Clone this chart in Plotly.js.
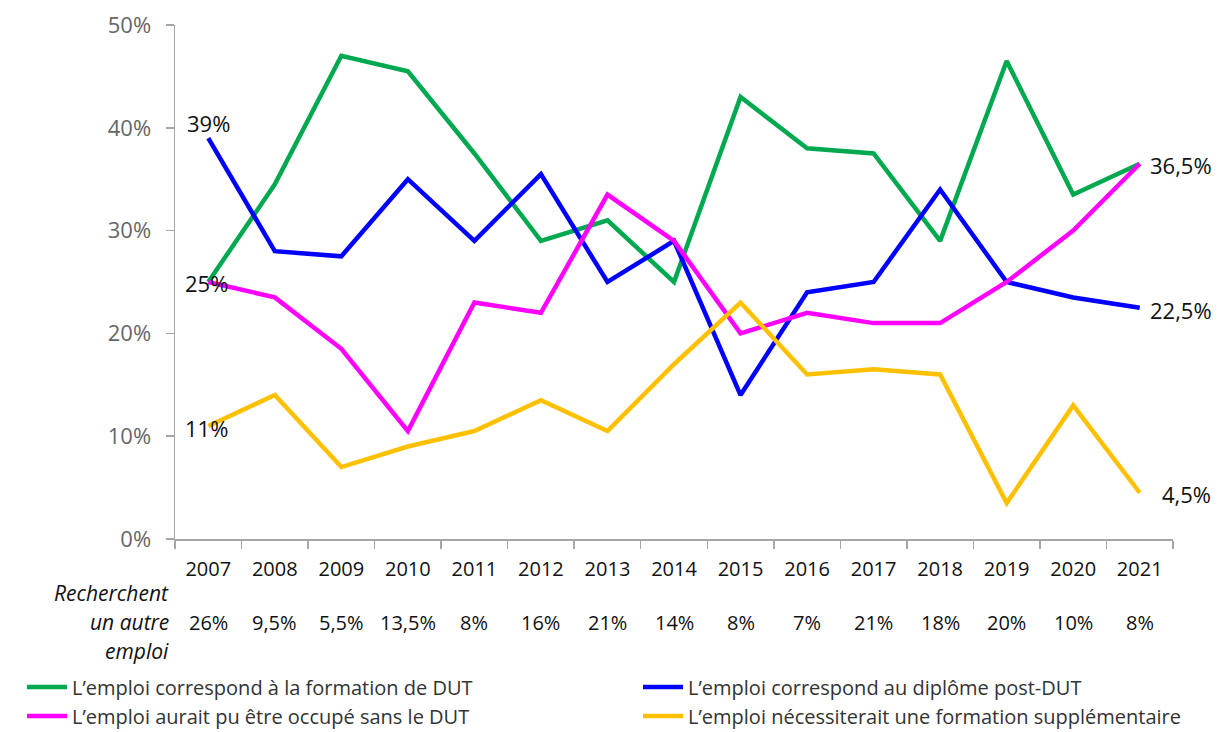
<!DOCTYPE html>
<html>
<head>
<meta charset="utf-8">
<script src="https://cdn.plot.ly/plotly-3.0.1.min.js"></script>
<style>html,body{margin:0;padding:0;background:#fff;}#chart{width:1227px;height:732px;}</style>
</head>
<body>
<div id="chart"></div>
<script>
var years = ["2007","2008","2009","2010","2011","2012","2013","2014","2015","2016","2017","2018","2019","2020","2021"];
var formationDUT = [25, 34.5, 47, 45.5, 37.5, 29, 31, 25, 43, 38, 37.5, 29, 46.5, 33.5, 36.5];
var postDUT = [39, 28, 27.5, 35, 29, 35.5, 25, 29, 14, 24, 25, 34, 25, 23.5, 22.5];
var sansDUT = [25, 23.5, 18.5, 10.5, 23, 22, 33.5, 29, 20, 22, 21, 21, 25, 30, 36.5];
var formationSupp = [11, 14, 7, 9, 10.5, 13.5, 10.5, 17, 23, 16, 16.5, 16, 3.5, 13, 4.5];
var autreEmploi = [26, 9.5, 5.5, 13.5, 8, 16, 21, 14, 8, 7, 21, 18, 20, 10, 8];
var seriesNames = ["L\u2019emploi correspond à la formation de DUT", "L\u2019emploi correspond au diplôme post-DUT", "L\u2019emploi aurait pu être occupé sans le DUT", "L\u2019emploi nécessiterait une formation supplémentaire"];
var rowLabelLines = ["Recherchent", "un autre", "emploi"];

var FONT = "'Open Sans', sans-serif";
var colors = ["#00A94F", "#0000FF", "#FF00FF", "#FFC000"];
var data = [formationDUT, postDUT, sansDUT, formationSupp];
var legendOf = ["legend", "legend2", "legend", "legend2"];

function fmt(v){ return String(v).replace('.', ',') + '%'; }

var traces = data.map(function(d, i){
  return {type:'scatter', mode:'lines', x: years, y: d, name: seriesNames[i], legend: legendOf[i],
    line:{color: colors[i], width: 4.5}, hoverinfo:'skip'};
});

var ann = [];
var L = years.length - 1;
function lab(idx, val, xa, xs, ys){
  ann.push({x: idx, y: val, xref:'x', yref:'y', text: fmt(val), showarrow:false, xanchor:xa, yanchor:'middle', xshift:xs, yshift:ys, font:{size:22, color:'#111', family:FONT}});
}
lab(0, postDUT[0], 'center', 0, 15);
lab(0, formationDUT[0], 'center', -2, -1);
lab(0, formationSupp[0], 'center', -2, -2);
lab(L, formationDUT[L], 'left', 8, -1);
lab(L, postDUT[L], 'left', 8, -2);
lab(L, formationSupp[L], 'left', 20, -1);

autreEmploi.forEach(function(v, i){
  ann.push({x: i, y: 0, xref:'x', yref:'paper', text: fmt(v), showarrow:false, xanchor:'center', yanchor:'middle', yshift:-83, font:{size:20, color:'#111', family:FONT}});
});
rowLabelLines.forEach(function(t, k){
  ann.push({x: 0, xref:'paper', y: 0, yref:'paper', xanchor:'right', yanchor:'middle', xshift:-4, yshift:-54 - 29*k, text:'<i>' + t + '</i>', showarrow:false, font:{size:21, color:'#111', family:FONT}});
});

var legendBase = {orientation:'v', xref:'container', yref:'container', xanchor:'left', yanchor:'top', y: 0.088,
  font:{size:20, color:'#333', family:FONT}, bgcolor:'rgba(0,0,0,0)', itemwidth:40, tracegroupgap:0};

var layout = {
  width: 1227, height: 732,
  margin: {l:175, r:54, t:25, b:193, autoexpand:false},
  paper_bgcolor:'#fff', plot_bgcolor:'#fff',
  font: {family: FONT, color:'#111'},
  showlegend: true,
  legend: Object.assign({}, legendBase, {x: 22/1227}),
  legend2: Object.assign({}, legendBase, {x: 638/1227}),
  xaxis: {type:'category', range:[-0.5, 14.5], autorange:false, showgrid:false, zeroline:false, showline:true, linecolor:'#a6a6a6', linewidth:1.5,
    ticks:'outside', ticklen:8, tickcolor:'#a6a6a6', tickwidth:1.5, tickson:'boundaries', ticklabelstandoff:11,
    tickfont:{size:20, color:'#111', family:FONT}, fixedrange:true, automargin:false},
  yaxis: {range:[0,50], autorange:false, dtick:10, ticksuffix:'%', showgrid:false, zeroline:false, showline:true, linecolor:'#a6a6a6', linewidth:1.5,
    ticks:'outside', ticklen:8, tickcolor:'#a6a6a6', tickwidth:1.5, ticklabelstandoff:10,
    tickfont:{size:22, color:'#666', family:FONT}, fixedrange:true, automargin:false},
  annotations: ann
};

Plotly.newPlot('chart', traces, layout, {displayModeBar:false, staticPlot:true});
</script>
</body>
</html>
